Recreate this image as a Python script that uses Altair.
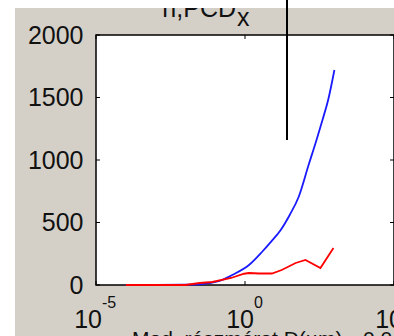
import altair as alt
import pandas as pd

# ---- data ----
blue_D = [1e-4, 1e-3, 1e-2, 0.03, 0.06, 0.13, 0.37, 1.36, 3.7, 7.4, 15.8, 31.6, 63, 136, 251, 398, 631, 1000]
blue_v = [0, 0, 2, 5, 15, 30, 80, 160, 264, 345, 440, 560, 704, 960, 1160, 1320, 1490, 1720]
red_D = [1e-4, 1e-3, 1e-2, 0.03, 0.08, 0.34, 0.93, 1.35, 3, 8, 17, 50, 107, 340, 930]
red_v = [0, 0, 0, 16, 24, 56, 90, 96, 92, 92, 120, 176, 200, 136, 296]
y_ticks = [0, 500, 1000, 1500, 2000]
x_tick_exps = ["-5", "0", "5"]
title_main = "h,PCD"
title_sub = "x"
xlabel = "Mod. részméret D(µm)"
xlabel_tail = "0.0"

W, H = 298, 250
FONT = "Liberation Sans"
FS = 25
GRAY = "#d4d0c8"
INK = "#111111"

xscale = alt.Scale(type="log", domain=[1e-5, 1e5])
yscale = alt.Scale(domain=[0, 2000], nice=False)
yaxis = alt.Axis(values=y_ticks, title=None, ticks=False, domain=False, grid=False,
                 format="d", labelFont=FONT, labelFontSize=FS, labelColor=INK,
                 labelPadding=13, zindex=1)

one = pd.DataFrame({"a": [0]})

bg = alt.Chart(one).mark_rect(color=GRAY).encode(
    x=alt.value(-81), x2=alt.value(W), y=alt.value(-27), y2=alt.value(H + 60))

plotbg = alt.Chart(one).mark_rect(fill="white", stroke="black", strokeWidth=1.5).encode(
    x=alt.value(0), x2=alt.value(W), y=alt.value(0), y2=alt.value(H))

title1 = alt.Chart(one).mark_text(text=title_main, font=FONT, fontSize=FS, align="right",
                                  baseline="alphabetic", color=INK).encode(
    x=alt.value(140), y=alt.value(-18))
title2 = alt.Chart(one).mark_text(text=title_sub, font=FONT, fontSize=FS, align="left",
                                  baseline="alphabetic", color=INK).encode(
    x=alt.value(141), y=alt.value(-9))

topband = alt.Chart(one).mark_rect(color="white").encode(
    x=alt.value(-96), x2=alt.value(W), y=alt.value(-40), y2=alt.value(-27))
leftband = alt.Chart(one).mark_rect(color="white").encode(
    x=alt.value(-96), x2=alt.value(-81), y=alt.value(-40), y2=alt.value(H + 60))

ydf = pd.DataFrame({"t": y_ticks})
ytick_l = alt.Chart(ydf).mark_rule(color="black").encode(
    y=alt.Y("t:Q", scale=yscale, axis=yaxis), x=alt.value(0), x2=alt.value(4))
ytick_r = alt.Chart(ydf).mark_rule(color="black").encode(
    y=alt.Y("t:Q", scale=yscale, axis=yaxis), x=alt.value(W - 4), x2=alt.value(W))

xdf = pd.DataFrame({"D": [10.0 ** int(e) for e in x_tick_exps]})
xtick_b = alt.Chart(xdf).mark_rule(color="black").encode(
    x=alt.X("D:Q", scale=xscale, axis=None), y=alt.value(H - 4), y2=alt.value(H))
xtick_t = alt.Chart(xdf).mark_rule(color="black").encode(
    x=alt.X("D:Q", scale=xscale, axis=None), y=alt.value(0), y2=alt.value(4))

blue_df = pd.DataFrame({"D": blue_D, "v": blue_v})
red_df = pd.DataFrame({"D": red_D, "v": red_v})
blue = alt.Chart(blue_df).mark_line(color="#1a1aff", strokeWidth=1.8, interpolate="monotone").encode(
    x=alt.X("D:Q", scale=xscale, axis=None), y=alt.Y("v:Q", scale=yscale, axis=yaxis))
red = alt.Chart(red_df).mark_line(color="#ff0000", strokeWidth=1.8).encode(
    x=alt.X("D:Q", scale=xscale, axis=None), y=alt.Y("v:Q", scale=yscale, axis=yaxis))

# x tick labels "10" with superscript exponent
xlabels = []
for e in x_tick_exps:
    d = pd.DataFrame({"D": [10.0 ** int(e)]})
    wexp = 9 * len(e.replace("-", "")) + 6 * e.count("-")
    dx = (27 - wexp) / 2
    xlabels.append(alt.Chart(d).mark_text(text="10", font=FONT, fontSize=FS, align="right",
                                          baseline="alphabetic", color=INK, dx=dx).encode(
        x=alt.X("D:Q", scale=xscale, axis=None), y=alt.value(H + 43)))
    xlabels.append(alt.Chart(d).mark_text(text=e, font=FONT, fontSize=16, align="left",
                                          baseline="alphabetic", color=INK, dx=dx).encode(
        x=alt.X("D:Q", scale=xscale, axis=None), y=alt.value(H + 23)))

xl1 = alt.Chart(one).mark_text(text=xlabel, font=FONT, fontSize=21, align="left",
                               baseline="alphabetic", color=INK).encode(
    x=alt.value(36), y=alt.value(H + 61))
xl2 = alt.Chart(one).mark_text(text=xlabel_tail, font=FONT, fontSize=21, align="left",
                               baseline="alphabetic", color=INK).encode(
    x=alt.value(267), y=alt.value(H + 61))

vline = alt.Chart(one).mark_rule(color="black", strokeWidth=2).encode(
    x=alt.value(191), y=alt.value(-35), y2=alt.value(105))

chart = alt.layer(
    bg, plotbg, title1, title2, topband, leftband,
    ytick_l, ytick_r, xtick_b, xtick_t, blue, red,
    *xlabels, xl1, xl2, vline
).properties(
    width=W, height=H,
    padding={"left": 96, "top": 35, "right": 0, "bottom": 51},
    autosize=alt.AutoSizeParams(type="none"),
    background="white",
).configure_view(stroke=None)

chart.save("out.html", embed_options={"renderer": "svg", "actions": False})
